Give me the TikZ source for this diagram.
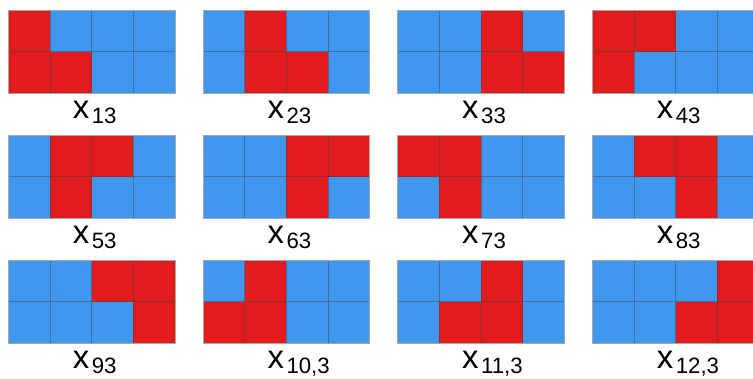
\documentclass[tikz,border=0pt]{standalone}
\usepackage{fontspec}
\setmainfont{Liberation Sans}
\definecolor{tr}{RGB}{226,27,28}
\definecolor{tb}{RGB}{63,151,240}
\newcommand{\subsize}{\fontsize{22.3}{24}\selectfont}

\begin{document}
\begin{tikzpicture}[x=1bp,y=-1bp,
  cellline/.style={black!75,opacity=0.45,line width=0.7bp},
  rim/.style={gray!70,line width=0.8bp},
  tag/.style={inner sep=0pt,anchor=base west,font={\fontsize{33}{36}\selectfont}}]
\useasboundingbox (0,0) rectangle (753,378);
% twelve 2x4 tilings: column/row/subscript/top cells/bottom cells
\foreach \gc/\gr/\sub/\ra/\rb in {
  0/0/{13}/{tr,tb,tb,tb}/{tr,tr,tb,tb},
  1/0/{23}/{tb,tr,tb,tb}/{tb,tr,tr,tb},
  2/0/{33}/{tb,tb,tr,tb}/{tb,tb,tr,tr},
  3/0/{43}/{tr,tr,tb,tb}/{tr,tb,tb,tb},
  0/1/{53}/{tb,tr,tr,tb}/{tb,tr,tb,tb},
  1/1/{63}/{tb,tb,tr,tr}/{tb,tb,tr,tb},
  2/1/{73}/{tr,tr,tb,tb}/{tb,tr,tb,tb},
  3/1/{83}/{tb,tr,tr,tb}/{tb,tb,tr,tb},
  0/2/{93}/{tb,tb,tr,tr}/{tb,tb,tb,tr},
  1/2/{10,3}/{tb,tr,tb,tb}/{tr,tr,tb,tb},
  2/2/{11,3}/{tb,tb,tr,tb}/{tb,tr,tr,tb},
  3/2/{12,3}/{tb,tb,tb,tr}/{tb,tb,tr,tr}}{
  \pgfmathsetmacro{\gx}{8.3+194.67*\gc}
  \pgfmathsetmacro{\gy}{10+125*\gr}
  \foreach \v [count=\i from 0] in \ra
    \fill[\v] (\gx+41.67*\i,\gy) rectangle ++(41.67,41.67);
  \foreach \v [count=\i from 0] in \rb
    \fill[\v] (\gx+41.67*\i,\gy+41.67) rectangle ++(41.67,41.67);
  \foreach \k in {1,2,3}
    \draw[cellline] (\gx+41.67*\k,\gy) -- ++(0,83.33);
  \draw[cellline] (\gx,\gy+41.67) -- ++(166.67,0);
  \draw[rim] (\gx,\gy) rectangle ++(166.67,83.33);
  % label
  \node[tag] (lab-\gc-\gr) at (\gx+64.4,\gy+108.3)
    {x\kern2.5bp\lower5bp\hbox{\subsize\sub}};
}
\end{tikzpicture}
\end{document}
